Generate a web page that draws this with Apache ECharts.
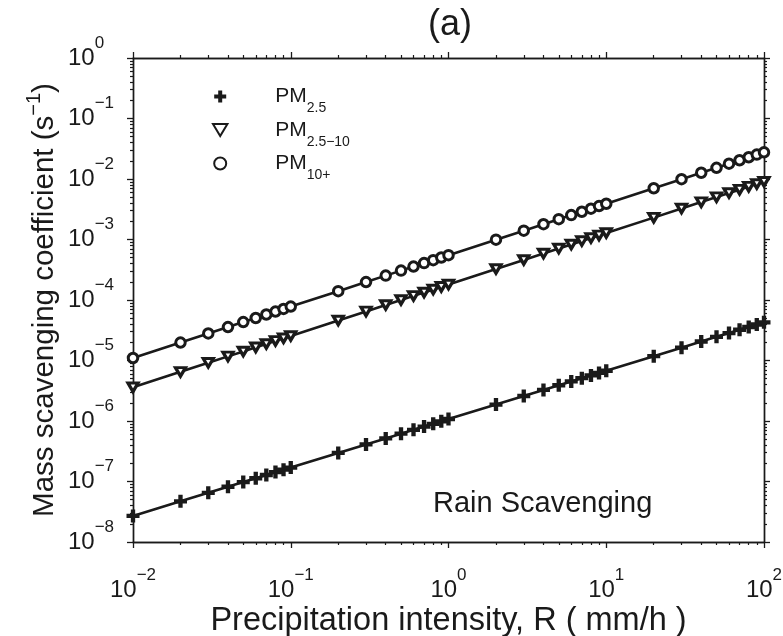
<!DOCTYPE html>
<html><head><meta charset="utf-8">
<script src="https://cdn.jsdelivr.net/npm/echarts@6/dist/echarts.min.js"></script>
<style>html,body{margin:0;padding:0;background:#fff}#c{width:783px;height:636px}</style>
</head><body><div id="c"></div>
<script>
// ---- data ----
const xValues = [0.01,0.02,0.03,0.04,0.05,0.06,0.07,0.08,0.09,
  0.1,0.2,0.3,0.4,0.5,0.6,0.7,0.8,0.9,
  1,2,3,4,5,6,7,8,9,
  10,20,30,40,50,60,70,80,90,
  100];
const pm25 = [2.70e-8,4.70e-8,6.50e-8,8.18e-8,9.78e-8,1.13e-7,1.28e-7,1.43e-7,1.57e-7,
  1.70e-7,2.97e-7,4.10e-7,5.16e-7,6.18e-7,7.14e-7,8.08e-7,8.99e-7,9.88e-7,
  1.08e-6,1.87e-6,2.59e-6,3.26e-6,3.90e-6,4.51e-6,5.10e-6,5.67e-6,6.24e-6,
  6.78e-6,1.18e-5,1.63e-5,2.06e-5,2.46e-5,2.84e-5,3.22e-5,3.58e-5,3.93e-5,
  4.28e-5];
const pm2510 = [3.60e-6,6.49e-6,9.16e-6,1.17e-5,1.41e-5,1.65e-5,1.88e-5,2.11e-5,2.33e-5,
  2.55e-5,4.59e-5,6.48e-5,8.28e-5,1.00e-4,1.17e-4,1.33e-4,1.49e-4,1.65e-4,
  1.80e-4,3.25e-4,4.59e-4,5.86e-4,7.09e-4,8.27e-4,9.43e-4,1.06e-3,1.17e-3,
  1.28e-3,2.30e-3,3.25e-3,4.15e-3,5.02e-3,5.86e-3,6.67e-3,7.48e-3,8.27e-3,
  9.04e-3];
const pm10p = [1.10e-5,1.98e-5,2.80e-5,3.57e-5,4.32e-5,5.04e-5,5.75e-5,6.44e-5,7.12e-5,
  7.79e-5,1.40e-4,1.98e-4,2.53e-4,3.06e-4,3.57e-4,4.07e-4,4.56e-4,5.04e-4,
  5.51e-4,9.94e-4,1.40e-3,1.79e-3,2.17e-3,2.53e-3,2.88e-3,3.23e-3,3.57e-3,
  3.90e-3,7.04e-3,9.93e-3,1.27e-2,1.53e-2,1.79e-2,2.04e-2,2.29e-2,2.53e-2,
  2.76e-2];
const seriesNames = ['PM2.5','PM2.5-10','PM10+'];
const legendLabels = ['{p|PM}{s|2.5}','{p|PM}{s|2.5\u221210}','{p|PM}{s|10+}'];
const xDecades = [-2,-1,0,1,2];
const yDecades = [-8,-7,-6,-5,-4,-3,-2,-1,0];
const minorSteps = [2,3,4,5,6,7,8,9];
const chartTitle = '(a)';
const xTitle = 'Precipitation intensity, R ( mm/h )';
const yTitle = 'Mass scavenging coefficient (s{u|\u22121})';
const noteText = 'Rain Scavenging';

// ---- styling ----
const INK = '#1a1a1a';
const FONT = 'Liberation Sans, Arial, Helvetica, sans-serif';
const crossPath = 'path://M4,0H8V4H12V8H8V12H4V8H0V4H4Z';
const triPath = 'path://M0,0L12,0L6,10Z';

function minorValues(decades){
  const out = [];
  for (let i = 0; i < decades.length - 1; i++) {
    for (const m of minorSteps) out.push(+(m * Math.pow(10, decades[i])).toPrecision(3));
  }
  return out;
}
function powLabel(decades){
  return function(v){
    const lv = Math.round(Math.log10(v));
    const e = decades.find(d => d === lv);
    if (e === undefined) return '';
    return '{b|10}{s|' + (e < 0 ? '\u2212' + (-e) : String(e)) + '}';
  };
}
const labelRich = {
  b: {fontSize: 24, fontFamily: FONT, color: INK},
  s: {fontSize: 17, fontFamily: FONT, color: INK, padding: [0,0,30,0]}
};
const axisLine = {show: true, lineStyle: {color: INK, width: 1.4}};

function makeX(position, withLabels, minor){
  return {
    type: 'log', logBase: 10, min: 0.01, max: 100, position: position,
    gridIndex: 0, splitNumber: 4,
    axisLine: axisLine,
    axisTick: minor ? {show: true, length: 3, customValues: minorValues(xDecades), lineStyle: {color: INK, width: 1.2}}
                    : {show: true, length: 6, lineStyle: {color: INK, width: 1.3}},
    axisLabel: withLabels ? {show: true, margin: 25, formatter: powLabel(xDecades), rich: labelRich}
                          : {show: false},
    splitLine: {show: false}, minorTick: {show: false}
  };
}
function makeY(position, withLabels, minor){
  return {
    type: 'log', logBase: 10, min: 1e-8, max: 1, position: position,
    gridIndex: 0, splitNumber: 8,
    axisLine: axisLine,
    axisTick: minor ? {show: true, length: 3, customValues: minorValues(yDecades), lineStyle: {color: INK, width: 1.2}}
                    : {show: true, length: 6, lineStyle: {color: INK, width: 1.3}},
    axisLabel: withLabels ? {show: true, margin: 65, align: 'left', formatter: powLabel(yDecades), rich: labelRich}
                          : {show: false},
    splitLine: {show: false}, minorTick: {show: false}
  };
}

const xA = makeX('bottom', true, false);
xA.name = xTitle; xA.nameLocation = 'middle'; xA.nameGap = 63; xA.nameMoveOverlap = false;
xA.nameTextStyle = {fontSize: 32.5, fontFamily: FONT, color: INK};
const yA = makeY('left', true, false);
yA.name = yTitle; yA.nameLocation = 'middle'; yA.nameGap = 67; yA.nameMoveOverlap = false;
yA.nameTextStyle = {fontSize: 29.5, fontFamily: FONT, color: INK,
  rich: {u: {fontSize: 20, fontFamily: FONT, color: INK, padding: [0,0,22,0]}}};

const chart = echarts.init(document.getElementById('c'), null, {renderer: 'canvas'});
chart.setOption({
  animation: false,
  backgroundColor: '#fff',
  title: {text: chartTitle, left: 445, top: 2, textAlign: 'center',
    textStyle: {fontSize: 36, fontWeight: 'normal', fontFamily: FONT, color: INK}},
  grid: {left: 133, right: 19, top: 58, bottom: 94, containLabel: false, outerBoundsMode: 'none'},
  xAxis: [xA, makeX('bottom', false, true), makeX('top', false, false), makeX('top', false, true)],
  yAxis: [yA, makeY('left', false, true), makeY('right', false, false), makeY('right', false, true)],
  legend: {
    orient: 'vertical', left: 212, top: 86, padding: 0, itemGap: 4,
    itemWidth: 100, itemHeight: 12, selectedMode: false,
    data: [
      {name: seriesNames[0], icon: crossPath},
      {name: seriesNames[1], icon: triPath},
      {name: seriesNames[2], icon: 'circle'}
    ],
    formatter: name => legendLabels[seriesNames.indexOf(name)],
    textStyle: {rich: {
      p: {fontSize: 21, fontFamily: FONT, color: INK},
      s: {fontSize: 14, fontFamily: FONT, color: INK, padding: [24,0,0,0]}
    }}
  },
  graphic: [{
    type: 'text', left: 433, top: 489, silent: true,
    style: {text: noteText, fontSize: 29, fontFamily: FONT, fill: INK}
  }],
  series: [
    {name: seriesNames[0], type: 'line', xAxisIndex: 0, yAxisIndex: 0,
     data: xValues.map((x, i) => [x, pm25[i]]),
     symbol: crossPath, symbolSize: 13,
     itemStyle: {color: INK, borderWidth: 0},
     lineStyle: {color: INK, width: 2.6}},
    {name: seriesNames[1], type: 'line', xAxisIndex: 0, yAxisIndex: 0,
     data: xValues.map((x, i) => [x, pm2510[i]]),
     symbol: triPath, symbolSize: [10, 8.5],
     itemStyle: {color: '#fff', borderColor: INK, borderWidth: 3.2},
     lineStyle: {color: INK, width: 2.6}},
    {name: seriesNames[2], type: 'line', xAxisIndex: 0, yAxisIndex: 0,
     data: xValues.map((x, i) => [x, pm10p[i]]),
     symbol: 'circle', symbolSize: 9.5,
     itemStyle: {color: '#fff', borderColor: INK, borderWidth: 3},
     lineStyle: {color: INK, width: 2.6}}
  ]
});
</script>
</body></html>
